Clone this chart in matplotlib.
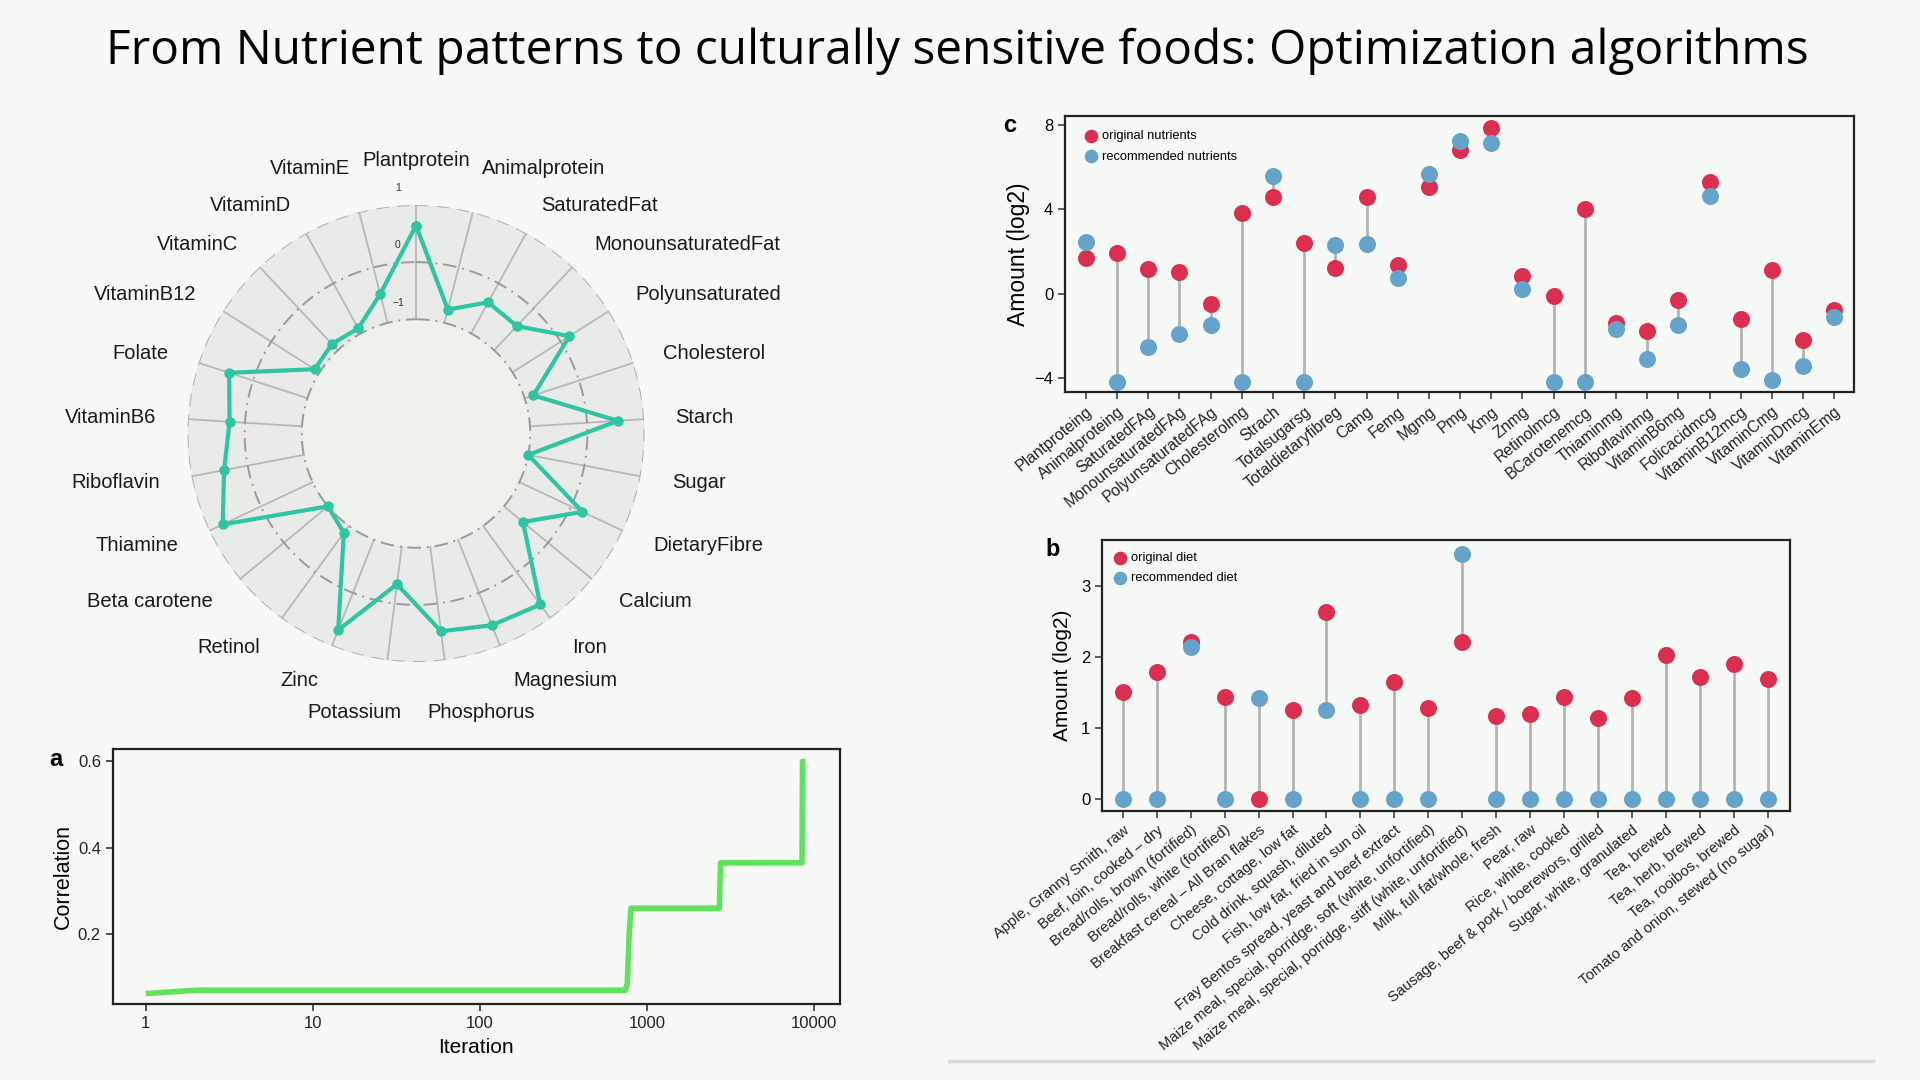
import numpy as np
import matplotlib
matplotlib.use("Agg")
import matplotlib.pyplot as plt
import matplotlib.transforms as mtransforms
from matplotlib import font_manager
from matplotlib.lines import Line2D

BG = '#f6f9f5'
RED = '#dc2f50'
BLUE = '#65a3cb'
TEAL = '#2fc4a2'
GREEN = '#5ee45a'

names = {f.name for f in font_manager.fontManager.ttflist}
NARROW = 'Liberation Sans Narrow' if 'Liberation Sans Narrow' in names else 'Liberation Sans'
plt.rcParams['font.family'] = ['Liberation Sans', 'DejaVu Sans']

# radar data (panel top-left)
nutrients = ["Plantprotein", "Animalprotein", "SaturatedFat", "MonounsaturatedFat",
             "Polyunsaturated", "Cholesterol", "Starch", "Sugar", "DietaryFibre",
             "Calcium", "Iron", "Magnesium", "Phosphorus", "Potassium", "Zinc",
             "Retinol", "Beta carotene", "Thiamine", "Riboflavin", "VitaminB6",
             "Folate", "VitaminB12", "VitaminC", "VitaminD", "VitaminE"]
scores = [0.64, -0.76, -0.38, -0.42, 0.18, -0.84, 0.54, -1.0, 0.22, -0.57,
          0.70, 0.61, 0.49, -0.34, 0.70, -0.85, -1.0, 0.74, 0.42, 0.27,
          0.44, -0.90, -0.85, -0.90, -0.48]
radar_ticks = [1, 0, -1]

# panel a
iteration = [1, 2, 740, 760, 770, 780, 800, 2700, 2750, 8450, 8500, 8800]
correlation = [0.062, 0.070, 0.070, 0.085, 0.14, 0.20, 0.26, 0.26, 0.365, 0.365, 0.60, 0.60]

# panel c
nutr_labels = ["Plantproteing", "Animalproteing", "SaturatedFAg", "MonounsaturatedFAg",
               "PolyunsaturatedFAg", "Cholesterolmg", "Strach", "Totalsugarsg",
               "Totaldietaryfibreg", "Camg", "Femg", "Mgmg", "Pmg", "Kmg", "Znmg",
               "Retinolmcg", "BCarotenemcg", "Thiaminmg", "Riboflavinmg", "VitaminB6mg",
               "Folicacidmcg", "VitaminB12mcg", "VitaminCmg", "VitaminDmcg", "VitaminEmg"]
orig_nutr = [1.71, 1.95, 1.16, 1.03, -0.46, 3.80, 4.56, 2.39, 1.24, 4.60, 1.35, 5.04,
             6.78, 7.86, 0.84, -0.08, 3.99, -1.38, -1.77, -0.30, 5.31, -1.17, 1.11,
             -2.20, -0.74]
rec_nutr = [2.46, -4.15, -2.52, -1.89, -1.46, -4.15, 5.59, -4.15, 2.30, 2.38, 0.76, 5.67,
            7.21, 7.13, 0.25, -4.15, -4.15, -1.66, -3.07, -1.46, 4.61, -3.57, -4.07,
            -3.41, -1.11]

# panel b
foods = ["Apple, Granny Smith, raw", "Beef, loin, cooked \u2013 dry",
         "Bread/rolls, brown (fortified)", "Bread/rolls, white (fortified)",
         "Breakfast cereal \u2013 All Bran flakes", "Cheese, cottage, low fat",
         "Cold drink, squash, diluted", "Fish, low fat, fried in sun oil",
         "Fray Bentos spread, yeast and beef extract",
         "Maize meal, special, porridge, soft (white, unfortified)",
         "Maize meal, special, porridge, stiff (white, unfortified)",
         "Milk, full fat/whole, fresh", "Pear, raw", "Rice, white, cooked",
         "Sausage, beef & pork / boerewors, grilled", "Sugar, white, granulated",
         "Tea, brewed", "Tea, herb, brewed", "Tea, rooibos, brewed",
         "Tomato and onion, stewed (no sugar)"]
orig_diet = [1.51, 1.79, 2.21, 1.43, 0.0, 1.25, 2.63, 1.32, 1.64, 1.28, 2.20, 1.17,
             1.19, 1.43, 1.14, 1.42, 2.02, 1.72, 1.90, 1.68]
rec_diet = [0, 0, 2.13, 0, 1.42, 0, 1.25, 0, 0, 0, 3.45, 0, 0, 0, 0, 0, 0, 0, 0, 0]

fig = plt.figure(figsize=(19.2, 10.8), dpi=100, facecolor=BG)
fig.text(0.4987, 1 - 51 / 1080, "From Nutrient patterns to culturally sensitive foods: Optimization algorithms",
         ha='center', va='center', fontsize=34.5, family=['Open Sans', 'DejaVu Sans'], color='black')

# ---------------- radar ----------------
ax = fig.add_axes([187.5 / 1920, 1 - 662 / 1080, 457 / 1920, 457 / 1080], projection='polar')
ax.set_facecolor('none')
ax.set_theta_zero_location('N')
ax.set_theta_direction(-1)
ax.set_ylim(-3, 1)
ax.grid(False)
ax.spines['polar'].set_visible(False)
ax.set_xticks([])
ax.set_yticks([])
n = len(nutrients)
angles = np.arange(n) * 2 * np.pi / n
full = np.linspace(0, 2 * np.pi, 400)
ax.fill_between(full, -3, -1, color='#eff1ed', zorder=0)
ax.fill_between(full, -1, 1, color='#e9ebe8', zorder=0)
for a in angles:
    ax.plot([a, a], [-1, 1], color='#b8b8b6', lw=1.3, zorder=1)
ax.plot(full, np.full_like(full, 1), color='#b3b3b1', lw=1.5, ls=(0, (6, 4)), zorder=1)
ax.plot(full, np.full_like(full, 0), color='#9a9a98', lw=1.4, ls=(0, (7, 3, 1, 3)), zorder=1)
ax.plot(full, np.full_like(full, -1), color='#9a9a98', lw=1.4, ls=(0, (7, 3, 1, 3)), zorder=1)
ax.plot(np.append(angles, angles[0]), scores + [scores[0]], color=TEAL, lw=3,
        marker='o', ms=6.5, zorder=3, clip_on=False)
for t in radar_ticks:
    ax.annotate(str(t).replace('-', '\u2212'), xy=(0, t), xytext=(-13, 12), textcoords='offset points',
                ha='center', va='center', fontsize=7.5, color='#333333')

renderer = fig.canvas.get_renderer()
for a, lab in zip(angles, nutrients):
    s, c = np.sin(a), np.cos(a)
    va = 'bottom' if c > 0.95 else ('top' if c < -0.95 else 'center')
    if c < -0.95:
        r = 1.75
    elif c > 0.95:
        r = 1.62
    else:
        r = 1.55 + 0.11 * max(0.0, -c)
    frac = float(np.clip(0.5 - s * 2.3, 0, 1))  # share of the width left of the anchor
    t = ax.text(a, r, lab, ha='left', va=va, fontsize=14.5, color='#1a1a1a', clip_on=False)
    w = t.get_window_extent(renderer).width
    t.set_transform(ax.transData + mtransforms.ScaledTranslation(-frac * w / fig.dpi, 0, fig.dpi_scale_trans))

# ---------------- panel a ----------------
axa = fig.add_axes([112.7 / 1920, 1 - 1004 / 1080, 727.3 / 1920, 254.6 / 1080], facecolor=BG)
axa.plot(iteration, correlation, color=GREEN, lw=4, solid_capstyle='butt')
axa.set_xscale('log')
axa.set_xlim(0.634, 14250)
axa.set_ylim(0.038, 0.628)
axa.set_xticks([1, 10, 100, 1000, 10000])
axa.set_xticklabels(['1', '10', '100', '1000', '10000'])
axa.minorticks_off()
axa.set_yticks([0.2, 0.4, 0.6])
axa.set_yticklabels(['0.2', '0.4', '0.6'])
axa.set_xlabel('Iteration', fontsize=15, labelpad=5)
axa.set_ylabel('Correlation', fontsize=15.5, labelpad=3)
for lab in axa.get_xticklabels() + axa.get_yticklabels():
    lab.set_family([NARROW, 'DejaVu Sans'])
    lab.set_fontsize(12)
axa.tick_params(length=5, width=1.2, color='#333333', labelcolor='#222222')
for sp in axa.spines.values():
    sp.set_linewidth(1.6)
    sp.set_color('#222222')
fig.text(56 / 1920, 1 - 760 / 1080, 'a', fontsize=17, fontweight='bold', ha='center', va='center')


def lollipop(axx, labels, orig, rec, names_leg, ylim, xlim, yticks, ylabel, ylab_size, lab_size, leg_xy):
    x = np.arange(len(labels))
    axx.vlines(x, orig, rec, color='#b4b4b4', lw=2, zorder=1)
    axx.scatter(x, orig, s=150, color=RED, zorder=2, label=names_leg[0], linewidths=0)
    axx.scatter(x, rec, s=150, color=BLUE, zorder=3, label=names_leg[1], linewidths=0)
    axx.set_xlim(*xlim)
    axx.set_ylim(*ylim)
    axx.set_xticks(x)
    axx.set_xticklabels(labels, rotation=39, ha='right', rotation_mode='anchor', fontsize=lab_size, color='#222222')
    axx.set_yticks(yticks)
    axx.set_yticklabels([str(v).replace('-', '\u2212') for v in yticks], family=[NARROW, 'DejaVu Sans'], fontsize=12)
    axx.set_ylabel(ylabel, fontsize=ylab_size, labelpad=6)
    axx.tick_params(length=5, width=1.1, color='#333333')
    for sp in axx.spines.values():
        sp.set_linewidth(1.6)
        sp.set_color('#222222')
    axx.legend(loc='upper left', bbox_to_anchor=leg_xy, frameon=False, handletextpad=0.15,
               borderaxespad=0.0, borderpad=0.4, labelspacing=0.65, markerscale=0.8, handlelength=1.4,
               prop={'family': [NARROW, 'DejaVu Sans'], 'size': 9.3})
    return axx


# ---------------- panel c ----------------
axc = fig.add_axes([1065 / 1920, 1 - 392 / 1080, 789 / 1920, 276 / 1080], facecolor=BG)
lollipop(axc, nutr_labels, orig_nutr, rec_nutr, ['original nutrients', 'recommended nutrients'],
         (-4.64, 8.41), (-0.67, 24.63), [-4, 0, 4, 8], 'Amount (log2)', 16.5, 11.3, (0.015, 0.967))
axc.yaxis.labelpad = 3
fig.text(1010 / 1920, 1 - 126 / 1080, 'c', fontsize=17, fontweight='bold', ha='center', va='center')

# ---------------- panel b ----------------
axb = fig.add_axes([1102 / 1920, 1 - 811 / 1080, 688 / 1920, 271 / 1080], facecolor=BG)
lollipop(axb, foods, orig_diet, rec_diet, ['original diet', 'recommended diet'],
         (-0.17, 3.64), (-0.61, 19.65), [0, 1, 2, 3], 'Amount (log2)', 15, 10.7, (0.005, 0.975))
fig.text(1053 / 1920, 1 - 550 / 1080, 'b', fontsize=17, fontweight='bold', ha='center', va='center')

fig.add_artist(Line2D([949 / 1920, 1873 / 1920], [1 - 1061 / 1080] * 2, color='#d8dad7', lw=2.5))

fig.savefig('out.png', dpi=100, facecolor=BG)
